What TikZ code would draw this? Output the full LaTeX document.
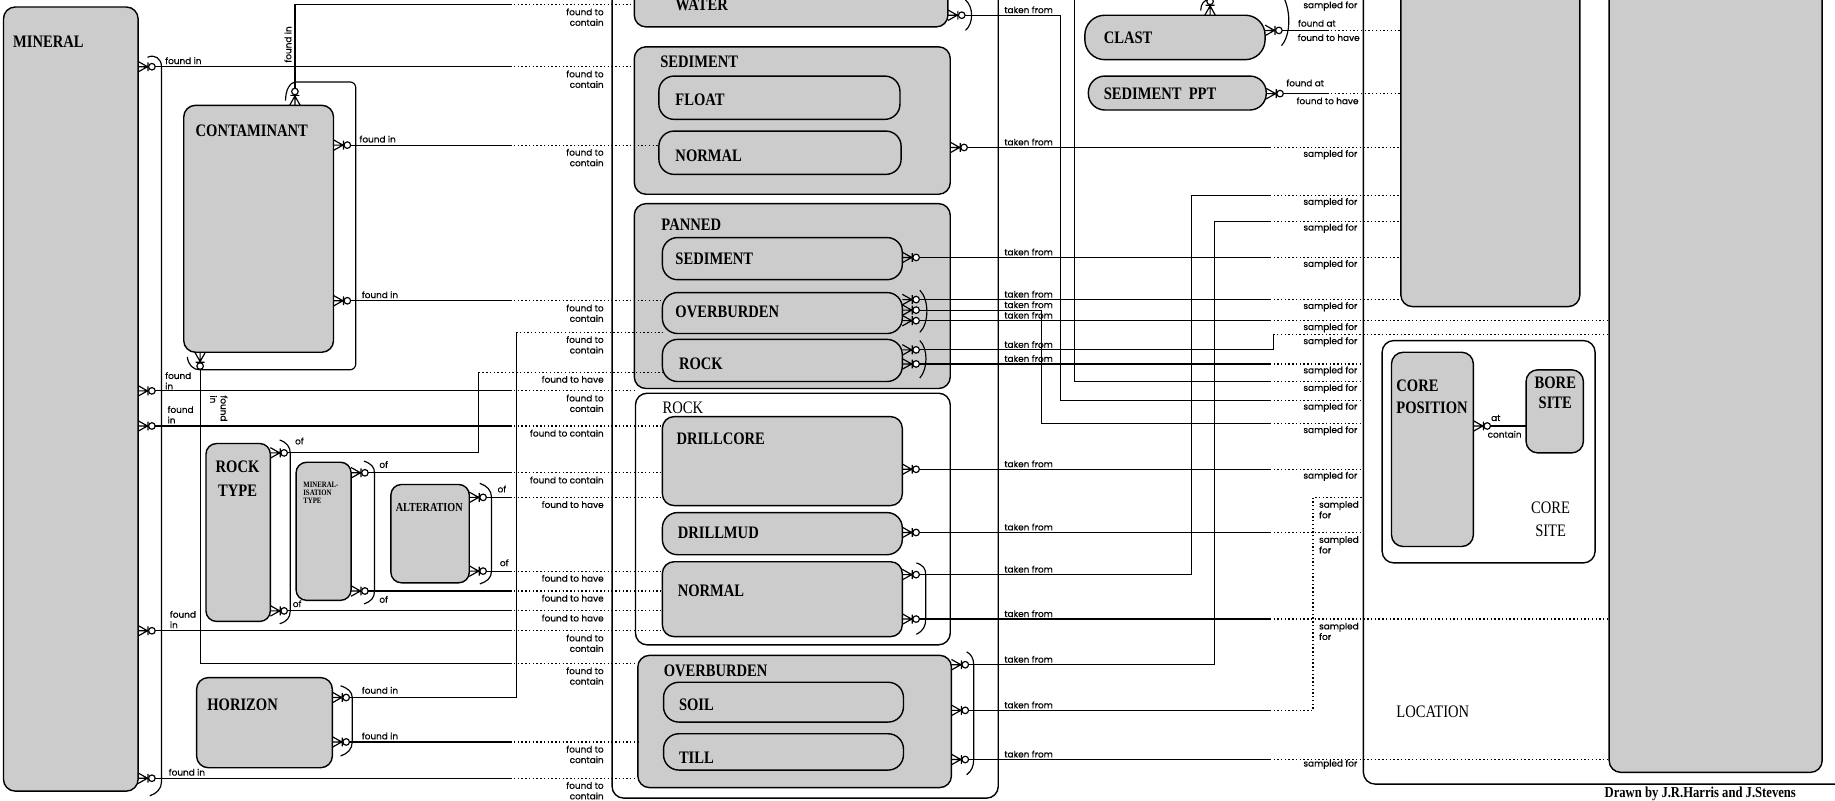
\documentclass[tikz,border=0pt]{standalone}
\usepackage{fontspec}
\newfontfamily\ttlf[FakeStretch=0.83]{Liberation Serif}
\newfontfamily\lblf[FakeBold=0.6]{Poppins}
\newcommand\ent[6][ent]{\node[#1, minimum width={(#4)-(#2)}, minimum height={(#5)-(#3)}] (#6) at (#2,#3) {};}
\newcommand\cnL[3]{\draw[rel] (#1-o) -- (436,#2); \draw[opt] (436,#2) -- (#3.west |- 0,#2);}
\newcommand\cnR[3]{\draw[rel] (#1-o) -- (1085,#2); \draw[opt] (1085,#2) -- (#3.west |- 0,#2);}
\tikzset{
  ent/.style={draw, line width=1.2pt, fill=black!20, rounded corners=10pt, inner sep=0pt, outer sep=0pt, anchor=north west},
  grp/.style={ent, fill=white},
  rel/.style={line width=1pt},
  opt/.style={line width=1pt, dash pattern=on 1.2pt off 2pt},
  ttl/.style={font=\ttlf\bfseries\fontsize{15}{19}\selectfont, inner sep=0pt, anchor=base west},
  ttr/.style={font=\ttlf\fontsize{15}{19}\selectfont, inner sep=0pt, anchor=base west},
  lb/.style={font=\lblf\fontsize{7.6}{9}\selectfont, inner sep=0pt},
  lbr/.style={lb, anchor=north east, align=right},
  lbl/.style={lb, anchor=south west, align=left},
  cf/.pic={
    \draw[rel] (0,-4.5) -- (8,0) -- (0,4.5) (0,0) -- (8,0) (8.5,-3.8) -- (8.5,3.8);
    \draw[rel,fill=white] (11.8,0) circle (2.8pt);
    \coordinate (-o) at (14.6,0);
  }
}
\begin{document}
\begin{tikzpicture}[x=1pt,y=-1pt]
\useasboundingbox (0,0) rectangle (1568,684);
\clip (0,0) rectangle (1568,684);
% ---------------- entities ----------------
\ent{3}{6}{118}{676}{mineral}
\ent{157}{90}{285}{301}{contam}
\ent[ent,rounded corners=9pt]{176}{379}{231}{531}{rocktype}
\ent[ent,rounded corners=9pt]{253}{395}{300}{513}{mintype}
\ent[ent,rounded corners=9pt]{334}{414}{401}{498}{alter}
\ent{168}{579}{284}{656}{horizon}
\ent[grp]{523}{-30}{853}{682}{sample}
\ent{542}{-30}{810}{23}{water}
\ent{542}{40}{812}{166}{sedgrp}
\ent[ent,rounded corners=13pt]{563}{65}{769}{102}{float}
\ent[ent,rounded corners=13pt]{563}{112}{770}{149}{sednorm}
\ent{542}{174}{812}{332}{panned}
\ent[ent,rounded corners=13pt]{566}{203}{771}{239}{psed}
\ent[ent,rounded corners=13pt]{566}{250}{771}{285}{pob}
\ent[ent,rounded corners=13pt]{566}{290}{771}{326}{prock}
\ent[grp]{543}{336}{812}{551}{rockgrp}
\ent{566}{356}{771}{432}{drillcore}
\ent[ent,rounded corners=13pt]{566}{438}{771}{474}{drillmud}
\ent{566}{480}{771}{544}{rnormal}
\ent{545}{560}{813}{673}{obgrp}
\ent[ent,rounded corners=13pt]{567}{583}{772}{617}{soil}
\ent[ent,rounded corners=13pt]{567}{627}{772}{658}{till}
\ent[ent,rounded corners=17pt]{927}{13}{1081}{51}{clast}
\ent[ent,rounded corners=14pt]{930}{65}{1082}{94}{sedppt}
\ent[grp]{1165}{-30}{1600}{670}{location}
\ent{1197}{-30}{1350}{262}{locA}
\ent{1375}{-30}{1557}{660}{locB}
\ent[grp]{1181}{291}{1363}{481}{coresite}
\ent{1189}{301}{1259}{467}{corepos}
\ent{1304}{316}{1353}{387}{boresite}
% ---------------- titles ----------------
\node[ttl] at (11,41) {MINERAL};
\node[ttl] at (167,117) {CONTAMINANT};
\node[ttl, anchor=north, align=center, font=\ttlf\bfseries\fontsize{15}{20}\selectfont] at (203,394) {ROCK\\TYPE};
\node[anchor=north west, align=left, inner sep=0pt, font=\ttlf\bfseries\fontsize{7}{6.5}\selectfont] at (259,412) {MINERAL-\\ISATION\\TYPE};
\node[ttl, font=\ttlf\bfseries\fontsize{10.5}{12}\selectfont] at (338,437) {ALTERATION};
\node[ttl] at (177,607) {HORIZON};
\node[ttl] at (577,9) {WATER};
\node[ttl] at (564,58) {SEDIMENT};
\node[ttl] at (577,90) {FLOAT};
\node[ttl] at (577,138) {NORMAL};
\node[ttl] at (565,197) {PANNED};
\node[ttl] at (577,226) {SEDIMENT};
\node[ttl] at (577,271) {OVERBURDEN};
\node[ttl] at (580,316) {ROCK};
\node[ttr] at (566,353) {ROCK};
\node[ttl] at (578,380) {DRILLCORE};
\node[ttl] at (579,460) {DRILLMUD};
\node[ttl] at (579,510) {NORMAL};
\node[ttl] at (567,578) {OVERBURDEN};
\node[ttl] at (580,607) {SOIL};
\node[ttl] at (580,652) {TILL};
\node[ttl] at (943,37) {CLAST};
\node[ttl] at (943,85) {SEDIMENT\ \ PPT};
\node[ttl, anchor=north west, align=left] at (1193,324) {CORE\\POSITION};
\node[ttl, anchor=north, align=center, font=\ttlf\bfseries\fontsize{15}{17}\selectfont] at (1329,322) {BORE\\SITE};
\node[ttr, anchor=north, align=center] at (1325,429) {CORE\\SITE};
\node[ttr] at (1193,613) {LOCATION};
\node[font=\ttlf\bfseries\fontsize{13}{13}\selectfont, anchor=base west, inner sep=0pt] at (1371,681.5) {Drawn by J.R.Harris and J.Stevens};
% ---------------- brackets / arcs ----------------
\draw[rel] (126,49) .. controls (132,46) and (138,50) .. (138,57) -- (138,668) .. controls (138,674) and (134,678) .. (128,680);
\draw[rel, rounded corners=5pt] (252,70) -- (304,70) -- (304,316) -- (171,316);
\draw[rel] (244,86) .. controls (244,76) and (248,71) .. (252,70);
\draw[rel] (160,305) .. controls (161,312) and (165,316) .. (171,316);
\draw[rel] (239,376) .. controls (245,378) and (248,382) .. (248,387) -- (248,522) .. controls (248,528) and (245,531) .. (239,533);
\draw[rel] (311,394) .. controls (317,396) and (320,399) .. (320,404) -- (320,505) .. controls (320,511) and (317,514) .. (311,516);
\draw[rel] (410,413) .. controls (416,415) and (420,419) .. (420,425) -- (420,488) .. controls (420,494) and (416,497) .. (410,499);
\draw[rel] (291,586) .. controls (297,588) and (301,591) .. (301,596) -- (301,634) .. controls (301,640) and (297,644) .. (291,646);
\draw[rel] (825,0) .. controls (832,6) and (832,20) .. (825,26);
\draw[rel] (786,248) .. controls (794,256) and (794,276) .. (786,284);
\draw[rel] (786,291) .. controls (793,298) and (793,315) .. (786,323);
\draw[rel] (783,481) .. controls (789,483) and (791,486) .. (791,491) -- (791,529) .. controls (791,535) and (789,539) .. (783,542);
\draw[rel] (826,557) .. controls (830,559) and (832,563) .. (832,568) -- (832,649) .. controls (832,655) and (830,659) .. (826,662);
\draw[rel] (1097,-2) .. controls (1103,10) and (1103,30) .. (1095,39);
\draw[rel] (1026,9) .. controls (1026,3) and (1029,0) .. (1034,-1);
% ---------------- left relations ----------------
\pic (mA) at (mineral.east |- 0,57) {cf};
\pic (mB) at (mineral.east |- 0,334) {cf};
\pic (mC) at (mineral.east |- 0,364) {cf};
\pic (mD) at (mineral.east |- 0,539) {cf};
\pic (mE) at (mineral.east |- 0,665) {cf};
\cnL{mA}{57}{sedgrp}
\cnL{mB}{334}{rockgrp}
\cnL{mC}{364}{drillcore}
\cnL{mD}{539}{rnormal}
\cnL{mE}{665}{obgrp}
\pic[rotate=90] (cT) at (contam.north -| 252,0) {cf};
\draw[rel] (cT-o) -- (252,4) -- (436,4); \draw[opt] (436,4) -- (water.west |- 0,4);
\pic (cR1) at (contam.east |- 0,124) {cf}; \cnL{cR1}{124}{sednorm}
\pic (cR2) at (contam.east |- 0,257) {cf}; \cnL{cR2}{257}{pob}
\pic[rotate=-90] (cB) at (contam.south -| 171,0) {cf};
\draw[rel] (cB-o) -- (171,567) -- (436,567); \draw[opt] (436,567) -- (obgrp.west |- 0,567);
\pic (rt1) at (rocktype.east |- 0,387) {cf};
\draw[rel] (rt1-o) -- (409,387) -- (409,318); \draw[opt] (409,318) -- (prock.west |- 0,318);
\pic (rt2) at (rocktype.east |- 0,522) {cf}; \cnL{rt2}{522}{rnormal}
\pic (mt1) at (mintype.east |- 0,404) {cf}; \cnL{mt1}{404}{drillcore}
\pic (mt2) at (mintype.east |- 0,505) {cf}; \cnL{mt2}{505}{rnormal}
\pic (al1) at (alter.east |- 0,425) {cf}; \cnL{al1}{425}{drillcore}
\pic (al2) at (alter.east |- 0,488) {cf}; \cnL{al2}{488}{rnormal}
\pic (h1) at (horizon.east |- 0,596) {cf};
\draw[rel] (h1-o) -- (441,596) -- (441,284); \draw[opt] (441,284) -- (pob.west |- 0,284);
\pic (h2) at (horizon.east |- 0,634) {cf}; \cnL{h2}{634}{obgrp}
% ---------------- right relations ----------------
\pic (w) at (water.east |- 0,13) {cf};
\draw[rel] (w-o) -- (906,13) -- (906,342) -- (1085,342); \draw[opt] (1085,342) -- (location.west |- 0,342);
\pic (sg) at (sedgrp.east |- 0,126) {cf}; \cnR{sg}{126}{locA}
\pic (ps) at (psed.east |- 0,220) {cf}; \cnR{ps}{220}{locA}
\pic (ob1) at (pob.east |- 0,256) {cf}; \cnR{ob1}{256}{locA}
\pic (ob2) at (pob.east |- 0,265) {cf};
\draw[rel] (ob2-o) -- (890,265) -- (890,362) -- (1085,362); \draw[opt] (1085,362) -- (location.west |- 0,362);
\pic (ob3) at (pob.east |- 0,274) {cf}; \cnR{ob3}{274}{locB}
\pic (pr1) at (prock.east |- 0,299) {cf};
\draw[rel] (pr1-o) -- (1088,299) -- (1088,286); \draw[opt] (1088,286) -- (locB.west |- 0,286);
\pic (pr2) at (prock.east |- 0,311) {cf}; \cnR{pr2}{311}{location}
\coordinate (above) at (918,-10);
\draw[rel] (above) -- (918,326) -- (1085,326); \draw[opt] (1085,326) -- (location.west |- 0,326);
\pic (dc) at (drillcore.east |- 0,401) {cf}; \cnR{dc}{401}{location}
\pic (dm) at (drillmud.east |- 0,455) {cf}; \cnR{dm}{455}{location}
\pic (rn1) at (rnormal.east |- 0,491) {cf};
\draw[rel] (rn1-o) -- (1018,491) -- (1018,167) -- (1085,167); \draw[opt] (1085,167) -- (locA.west |- 0,167);
\pic (rn2) at (rnormal.east |- 0,529) {cf}; \cnR{rn2}{529}{locB}
\pic (og) at (obgrp.east |- 0,568) {cf};
\draw[rel] (og-o) -- (1038,568) -- (1038,189) -- (1085,189); \draw[opt] (1085,189) -- (locA.west |- 0,189);
\pic (so) at (obgrp.east |- 0,607) {cf};
\draw[rel] (so-o) -- (1085,607); \draw[opt] (1085,607) -- (1122,607) -- (1122,425) -- (location.west |- 0,425);
\pic (ti) at (obgrp.east |- 0,649) {cf}; \cnR{ti}{649}{locB}
\pic (cl) at (clast.east |- 0,26) {cf};
\draw[rel] (cl-o) -- (1134,26); \draw[opt] (1134,26) -- (locA.west |- 0,26);
\pic[rotate=90] (clt) at (clast.north -| 1034,0) {cf};
\coordinate (abovecl) at (1034,-10);
\draw[rel] (clt-o) -- (abovecl);
\pic (sp) at (sedppt.east |- 0,80) {cf};
\draw[rel] (sp-o) -- (1134,80); \draw[opt] (1134,80) -- (locA.west |- 0,80);
\pic (cp) at (corepos.east |- 0,364) {cf};
\draw[rel] (cp-o) -- (boresite.west |- 0,364);
% ---------------- small labels ----------------
\node[lbl] at (141,55) {found in};
\node[lbl] at (141,333) {found\\in};
\node[lbl] at (143,362) {found\\in};
\node[lbl] at (145,537) {found\\in};
\node[lbl] at (144,663) {found in};
\node[lbl] at (307,122) {found in};
\node[lbl] at (309,255) {found in};
\node[lb, rotate=90] at (246,38) {found in};
\node[lb, rotate=-90, align=left] at (187,349) {found\\in};
\node[lbl] at (252,380) {of};
\node[lbl] at (250,519) {of};
\node[lbl] at (324,400) {of};
\node[lb, anchor=north west] at (324,509) {of};
\node[lbl] at (425,421) {of};
\node[lbl] at (427,484) {of};
\node[lbl] at (309,593) {found in};
\node[lbl] at (309,632) {found in};
\node[lbr] at (516,7) {found to\\contain};
\node[lbr] at (516,60) {found to\\contain};
\node[lbr] at (516,127) {found to\\contain};
\node[lbr] at (516,260) {found to\\contain};
\node[lbr] at (516,287) {found to\\contain};
\node[lbr] at (516,321) {found to have};
\node[lbr] at (516,337) {found to\\contain};
\node[lbr] at (516,367) {found to contain};
\node[lbr] at (516,407) {found to contain};
\node[lbr] at (516,428) {found to have};
\node[lbr] at (516,491) {found to have};
\node[lbr] at (516,508) {found to have};
\node[lbr] at (516,525) {found to have};
\node[lbr] at (516,542) {found to\\contain};
\node[lbr] at (516,570) {found to\\contain};
\node[lbr] at (516,637) {found to\\contain};
\node[lbr] at (516,668) {found to\\contain};
\foreach \y in {13,126,220,256,265,274,299,311,401,455,491,529,568,607,649}
  \node[lbl] at (858,\y-1.5) {taken from};
\foreach \y in {126,167,189,220,256,274,286,311,326,342,362,401,647}
  \node[lbr] at (1160,\y+2) {sampled for};
\foreach \y in {425,455,529}
  \node[lb, anchor=north west, align=left] at (1127,\y+3) {sampled\\for};
\node[lbr] at (1160,1) {sampled for};
\node[lbl] at (1109,23) {found at};
\node[lbr] at (1162,29) {found to have};
\node[lbl] at (1099,74) {found at};
\node[lbr] at (1161,83) {found to have};
\node[lbl] at (1274,360) {at};
\node[lb, anchor=north west] at (1271,368) {contain};
\end{tikzpicture}
\end{document}
